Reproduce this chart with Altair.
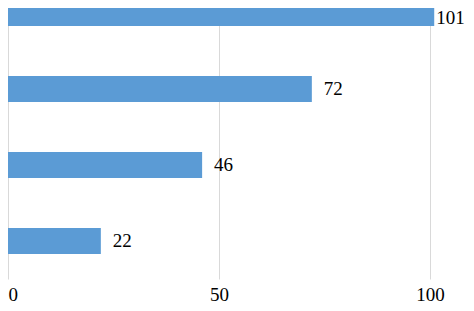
import altair as alt
import pandas as pd

categories = ["Category 1", "Category 2", "Category 3", "Category 4"]
values = [101, 72, 46, 22]
tick_values = [0, 50, 100]

df = pd.DataFrame({"category": categories, "value": values})

FONT = "Liberation Serif"
BLUE = "#5b9bd5"

x_enc = alt.X(
    "value:Q",
    scale=alt.Scale(domain=[0, 108.53], nice=False, zero=True),
    axis=alt.Axis(
        values=tick_values,
        title=None,
        ticks=False,
        domain=False,
        grid=True,
        gridColor="#d9d9d9",
        gridWidth=1,
        labelFont=FONT,
        labelFontSize=19,
        labelColor="#000000",
        labelBaseline="middle",
        labelPadding=15,
        labelFlush=True,
        format="d",
    ),
)
y_enc = alt.Y(
    "category:N",
    sort=categories,
    scale=alt.Scale(paddingInner=0.658, paddingOuter=0.329),
    axis=None,
)

base = alt.Chart(df)

bars = base.mark_bar(color=BLUE).encode(x=x_enc, y=y_enc)

labels_normal = (
    base.transform_filter(alt.datum.value <= 100)
    .mark_text(align="left", baseline="middle", dx=12, font=FONT, fontSize=19, color="#000000")
    .encode(x=x_enc, y=y_enc, text="value:Q")
)
labels_big = (
    base.transform_filter(alt.datum.value > 100)
    .mark_text(align="left", baseline="middle", dx=2, dy=5, font=FONT, fontSize=19, color="#000000")
    .encode(x=x_enc, y=y_enc, text="value:Q")
)

chart = (
    alt.layer(bars, labels_normal, labels_big)
    .properties(
        width=458,
        height=304,
        padding={"left": 0, "top": -33, "right": 0, "bottom": 24},
        autosize=alt.AutoSizeParams(type="none"),
        background="#ffffff",
    )
    .configure_view(stroke=None)
)

chart.save("out.html", embed_options={"renderer": "svg", "actions": False})
